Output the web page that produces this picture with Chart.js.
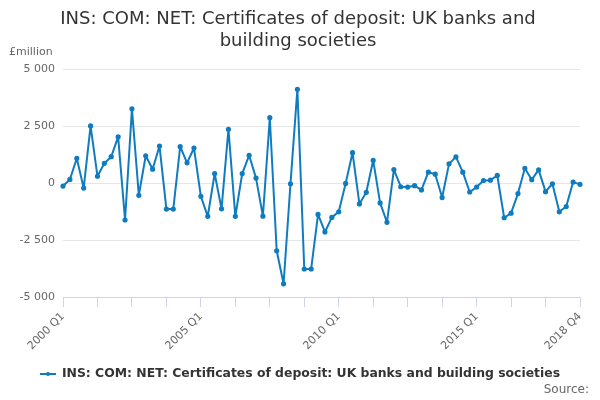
<!DOCTYPE html>
<html>
<head>
<meta charset="utf-8">
<script src="https://cdn.jsdelivr.net/npm/chart.js@4.4.0/dist/chart.umd.min.js"></script>
<style>
  html, body { margin: 0; padding: 0; background: #fff; }
  #wrap { width: 600px; height: 400px; }
</style>
</head>
<body>
<div id="wrap"><canvas id="myChart"></canvas></div>
<script>
const years = [2000, 2001, 2002, 2003, 2004, 2005, 2006, 2007, 2008, 2009,
    2010, 2011, 2012, 2013, 2014, 2015, 2016, 2017, 2018];
const quarters = ['Q1', 'Q2', 'Q3', 'Q4'];
const seriesName = 'INS: COM: NET: Certificates of deposit: UK banks and building societies';
const values = [
    -130, 160, 1090, -220, 2510, 300, 870, 1160, 2030, -1620,
    3260, -535, 1200, 610, 1625, -1140, -1140, 1600, 890, 1540,
    -580, -1460, 420, -1130, 2365, -1460, 420, 1220, 220, -1450,
    2870, -2970, -4420, -30, 4120, -3770, -3770, -1375, -2145, -1505,
    -1260, -15, 1335, -915, -405, 1000, -870, -1720, 595, -160,
    -175, -115, -300, 480, 390, -635, 845, 1150, 480, -390,
    -175, 115, 130, 335, -1520, -1320, -460, 650, 150, 580,
    -375, -30, -1260, -1030, 45, -55
];
const yTicks = [-5000, -2500, 0, 2500, 5000];

const labels = [];
years.forEach(y => quarters.forEach(q => labels.push(y + ' ' + q)));

const lineColor = '#0f7cc0';
const fontFam = '"DejaVu Sans", sans-serif';

// little line-with-dot marker for the legend
const marker = document.createElement('canvas');
marker.width = 16; marker.height = 8;
const mc = marker.getContext('2d');
mc.strokeStyle = lineColor; mc.lineWidth = 2;
mc.beginPath(); mc.moveTo(0, 4); mc.lineTo(16, 4); mc.stroke();
mc.fillStyle = lineColor;
mc.beginPath(); mc.arc(8, 4, 2, 0, Math.PI * 2); mc.fill();

const extras = {
    id: 'extras',
    afterDraw(chart) {
        const ctx = chart.ctx;
        ctx.save();
        ctx.font = '11px ' + fontFam;
        ctx.fillStyle = '#666';
        ctx.textBaseline = 'middle';
        ctx.textAlign = 'left';
        ctx.fillText('£million', 9, 52);
        // legend
        ctx.font = 'bold 12.4px ' + fontFam;
        const tw = ctx.measureText(seriesName).width;
        const total = 16 + 6 + tw;
        const x0 = (600 - total) / 2;
        ctx.drawImage(marker, x0, 370);
        ctx.fillStyle = '#333';
        ctx.fillText(seriesName, x0 + 22, 374);
        ctx.font = '12px ' + fontFam;
        ctx.fillStyle = '#666';
        ctx.textAlign = 'right';
        ctx.fillText('Source:', 589, 390);
        ctx.restore();
    }
};

const config = {
    type: 'line',
    data: {
        labels: labels,
        datasets: [{
            label: seriesName,
            data: values,
            borderColor: lineColor,
            backgroundColor: lineColor,
            borderWidth: 2,
            borderJoinStyle: 'round',
            pointRadius: 1.6,
            pointHoverRadius: 3,
            tension: 0
        }]
    },
    options: {
        responsive: false,
        animation: false,
        layout: { padding: { left: 16, right: 20, top: 0, bottom: 43 } },
        plugins: {
            legend: { display: false },
            tooltip: { enabled: false },
            title: {
                display: true,
                text: ['INS: COM: NET: Certificates of deposit: UK banks and', 'building societies'],
                color: '#333',
                font: { family: fontFam, size: 18, weight: 'normal', lineHeight: 1.2 },
                padding: { top: 9, bottom: 17 }
            }
        },
        scales: {
            x: {
                grid: {
                    drawOnChartArea: false,
                    tickLength: 10,
                    color: '#ccd6eb',
                    tickColor: c => (c.index % 5 === 0 ? '#ccd6eb' : 'rgba(0,0,0,0)')
                },
                border: { color: '#ccd6eb' },
                ticks: {
                    autoSkip: false,
                    maxRotation: 45,
                    minRotation: 45,
                    color: '#666',
                    font: { family: fontFam, size: 11 },
                    callback: function (v, i) {
                        return (i % 20 === 0 || i === labels.length - 1) ? labels[i] : '';
                    }
                },
                afterFit: s => { s.height = 60; }
            },
            y: {
                min: -5000,
                max: 5000,
                afterBuildTicks: s => { s.ticks = yTicks.map(v => ({ value: v })); },
                grid: { color: '#e6e6e6', drawTicks: false },
                border: { display: false },
                ticks: {
                    color: '#666',
                    padding: 8,
                    font: { family: fontFam, size: 11 },
                    callback: v => String(v).replace(/\B(?=(\d{3})+(?!\d))/g, ' ')
                },
                afterFit: s => { s.width = 47; }
            }
        }
    },
    plugins: [extras]
};

const c = document.getElementById('myChart');
c.width = 600; c.height = 400;
new Chart(c, config);
</script>
</body>
</html>
